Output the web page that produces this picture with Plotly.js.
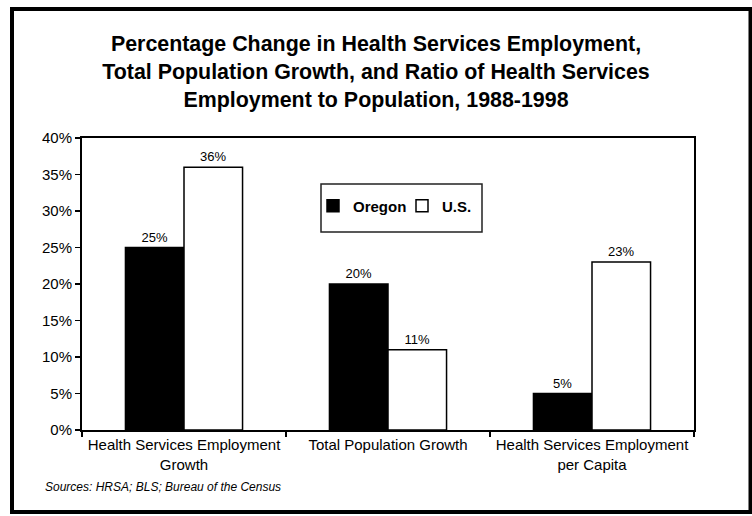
<!DOCTYPE html>
<html>
<head>
<meta charset="utf-8">
<script src="https://cdn.plot.ly/plotly-3.0.1.min.js"></script>
<style>html,body{margin:0;padding:0;background:#fff;}#chart{width:752px;height:516px;}</style>
</head>
<body>
<div id="chart"></div>
<script>
const categories = [
  "Health Services Employment<br>Growth",
  "Total Population Growth",
  "Health Services Employment<br>per Capita"
];
const oregonValues = [25, 20, 5];
const usValues = [36, 11, 23];
const seriesNames = ["Oregon", "U.S."];
const yTickValues = [0, 5, 10, 15, 20, 25, 30, 35, 40];
const yTickLabels = ["0%", "5%", "10%", "15%", "20%", "25%", "30%", "35%", "40%"];
const titleText = "Percentage Change in Health Services Employment,<br>Total Population Growth, and Ratio of Health Services<br>Employment to Population, 1988-1998";
const sourceText = "Sources: HRSA; BLS; Bureau of the Census";

const FONT = "Arial, 'Liberation Sans', sans-serif";

const traces = [
  {
    type: "bar", name: seriesNames[0], x: categories, y: oregonValues,
    text: oregonValues.map(v => v + "%"), textposition: "outside",
    textfont: {family: FONT, size: 13, color: "#000"},
    marker: {color: "#000", line: {color: "#000", width: 1.5}},
    cliponaxis: false, hoverinfo: "none"
  },
  {
    type: "bar", name: seriesNames[1], x: categories, y: usValues,
    text: usValues.map(v => v + "%"), textposition: "outside",
    textfont: {family: FONT, size: 13, color: "#000"},
    marker: {color: "#fff", line: {color: "#000", width: 1.5}},
    cliponaxis: false, hoverinfo: "none"
  }
];

const layout = {
  width: 752, height: 516,
  margin: {l: 82, r: 58, t: 138, b: 86},
  paper_bgcolor: "#fff", plot_bgcolor: "#fff",
  font: {family: FONT, color: "#000"},
  barmode: "group", bargap: 0.426, bargroupgap: 0,
  showlegend: true,
  title: {
    text: titleText, xref: "container", yref: "container",
    x: 376/752, xanchor: "center", y: 1 - 51/516, yanchor: "middle",
    font: {family: FONT, size: 21.4, weight: "bold", color: "#000"}
  },
  legend: {
    orientation: "h", x: (313-82)/612, y: (430-206)/292, xanchor: "left", yanchor: "middle",
    borderwidth: 0, bgcolor: "rgba(0,0,0,0)",
    font: {family: FONT, size: 15, weight: "bold", color: "#000"},
    itemwidth: 30, traceorder: "normal", entrywidth: 44, entrywidthmode: "pixels"
  },
  xaxis: {
    type: "category", showline: true, linecolor: "#000", linewidth: 2, mirror: true,
    ticks: "outside", tickson: "boundaries", ticklen: 5, tickwidth: 1.5, tickcolor: "#000",
    tickfont: {family: FONT, size: 15, color: "#000"}, showgrid: false, zeroline: false,
    fixedrange: true
  },
  yaxis: {
    range: [0, 40], tickmode: "array", tickvals: yTickValues, ticktext: yTickLabels,
    showline: true, linecolor: "#000", linewidth: 2, mirror: true,
    ticks: "outside", ticklen: 5, tickwidth: 1.5, tickcolor: "#000",
    tickfont: {family: FONT, size: 15, color: "#000"}, showgrid: false, zeroline: false,
    fixedrange: true
  },
  shapes: [
    {
      type: "rect", xref: "paper", yref: "paper",
      x0: (12-82)/612, x1: (750.5-82)/612, y0: (430-512)/292, y1: (430-9)/292,
      line: {color: "#000", width: 4}, fillcolor: "rgba(0,0,0,0)", layer: "above"
    },
    {
      type: "rect", xref: "paper", yref: "paper",
      x0: (321-82)/612, x1: (482-82)/612, y0: (430-232)/292, y1: (430-184)/292,
      line: {color: "#222", width: 1.5}, fillcolor: "#fff", layer: "below"
    }
  ],
  annotations: [{
    text: sourceText, xref: "paper", yref: "paper",
    x: (43-82)/612, y: (430-487)/292, xanchor: "left", yanchor: "middle",
    showarrow: false, font: {family: FONT, size: 12, style: "italic", color: "#000"}
  }]
};

Plotly.newPlot("chart", traces, layout, {displayModeBar: false, staticPlot: true});
</script>
</body>
</html>
